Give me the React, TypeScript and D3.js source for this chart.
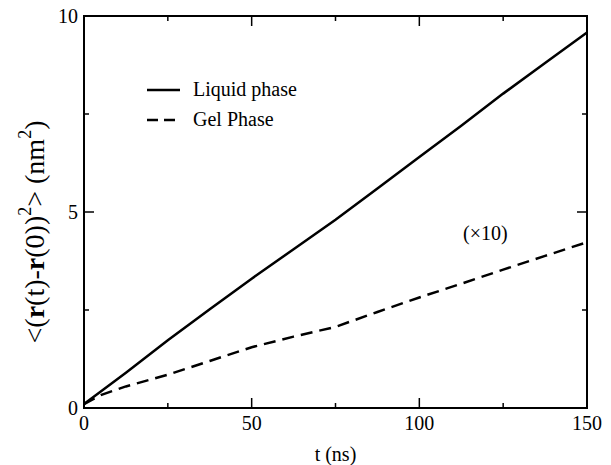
import React from "react";
import * as d3 from "d3";

const liquidT = [0, 12.5, 25, 37.5, 50, 62.5, 75, 87.5, 100, 112.5, 125, 137.5, 150];
const liquidMsd = [0.1, 0.9, 1.73, 2.52, 3.3, 4.05, 4.8, 5.6, 6.4, 7.2, 8.02, 8.8, 9.58];
const gelT = [0, 5, 12.5, 25, 37.5, 50, 62.5, 75, 87.5, 100, 112.5, 125, 137.5, 150];
const gelMsd = [0.1, 0.33, 0.55, 0.85, 1.2, 1.55, 1.82, 2.07, 2.45, 2.82, 3.17, 3.53, 3.88, 4.23];
const xMajor = [0, 50, 100, 150];
const xMinor = [25, 75, 125];
const yMajor = [0, 5, 10];
const yMinor = [2.5, 7.5];
const legendLabels = ["Liquid phase", "Gel Phase"];

const W = 611, H = 465;
const L = 84, R = 587, T = 16, B = 408;
const FONT = "'Liberation Serif', 'Times New Roman', Times, serif";

export default function App() {
  const x = d3.scaleLinear().domain([0, 150]).range([L, R]);
  const y = d3.scaleLinear().domain([0, 10]).range([B, T]);
  const line = d3.line<[number, number]>().x(d => x(d[0])).y(d => y(d[1]));
  const liq = line(liquidT.map((t, i) => [t, liquidMsd[i]] as [number, number])) || "";
  const gel = line(gelT.map((t, i) => [t, gelMsd[i]] as [number, number])) || "";
  const maj = 10, min = 5;
  const ticks: any[] = [];
  xMajor.forEach((v, i) => {
    ticks.push(<line key={"xb" + i} x1={x(v)} x2={x(v)} y1={B} y2={B - maj} />);
    ticks.push(<line key={"xt" + i} x1={x(v)} x2={x(v)} y1={T} y2={T + maj} />);
  });
  xMinor.forEach((v, i) => {
    ticks.push(<line key={"xbm" + i} x1={x(v)} x2={x(v)} y1={B} y2={B - min} />);
    ticks.push(<line key={"xtm" + i} x1={x(v)} x2={x(v)} y1={T} y2={T + min} />);
  });
  yMajor.forEach((v, i) => {
    ticks.push(<line key={"yl" + i} x1={L} x2={L + maj} y1={y(v)} y2={y(v)} />);
    ticks.push(<line key={"yr" + i} x1={R} x2={R - maj} y1={y(v)} y2={y(v)} />);
  });
  yMinor.forEach((v, i) => {
    ticks.push(<line key={"ylm" + i} x1={L} x2={L + min} y1={y(v)} y2={y(v)} />);
    ticks.push(<line key={"yrm" + i} x1={R} x2={R - min} y1={y(v)} y2={y(v)} />);
  });
  return (
    <svg width={W} height={H} style={{ position: "absolute", left: 0, top: 0, background: "#fff", fontFamily: FONT }}>
      <rect x={0} y={0} width={W} height={H} fill="#fff" />
      <path d={liq} fill="none" stroke="#000" strokeWidth={2.5} />
      <path d={gel} fill="none" stroke="#000" strokeWidth={2.5} strokeDasharray="12,7" />
      <g stroke="#000" strokeWidth={1.5}>{ticks}</g>
      <rect x={L} y={T} width={R - L} height={B - T} fill="none" stroke="#000" strokeWidth={2} />
      <g fontSize={20} fill="#000" style={{ fontFamily: FONT }}>
        {xMajor.map((v, i) => (
          <text key={"xl" + i} x={x(v)} y={430} textAnchor="middle">{v}</text>
        ))}
        {yMajor.map((v, i) => (
          <text key={"yl" + i} x={78} y={y(v) + 7} textAnchor="end">{v}</text>
        ))}
        <text x={(L + R) / 2} y={461} textAnchor="middle">t (ns)</text>
        <text transform={`translate(44,${232}) rotate(-90)`} textAnchor="middle" fontSize={28}>
          <tspan>&lt;(</tspan>
          <tspan fontWeight="bold">r</tspan>
          <tspan>(t)-</tspan>
          <tspan fontWeight="bold">r</tspan>
          <tspan>(0))</tspan>
          <tspan fontSize={18} dy={-13}>2</tspan>
          <tspan dy={13}>&gt; (nm</tspan>
          <tspan fontSize={18} dy={-13}>2</tspan>
          <tspan dy={13}>)</tspan>
        </text>
        <line x1={147} x2={180} y1={90} y2={90} stroke="#000" strokeWidth={2.5} />
        <line x1={147} x2={180} y1={120} y2={120} stroke="#000" strokeWidth={2.5} strokeDasharray="11,6" />
        <text x={193} y={96}>{legendLabels[0]}</text>
        <text x={193} y={126}>{legendLabels[1]}</text>
        <text x={463} y={240}>(×10)</text>
      </g>
    </svg>
  );
}
